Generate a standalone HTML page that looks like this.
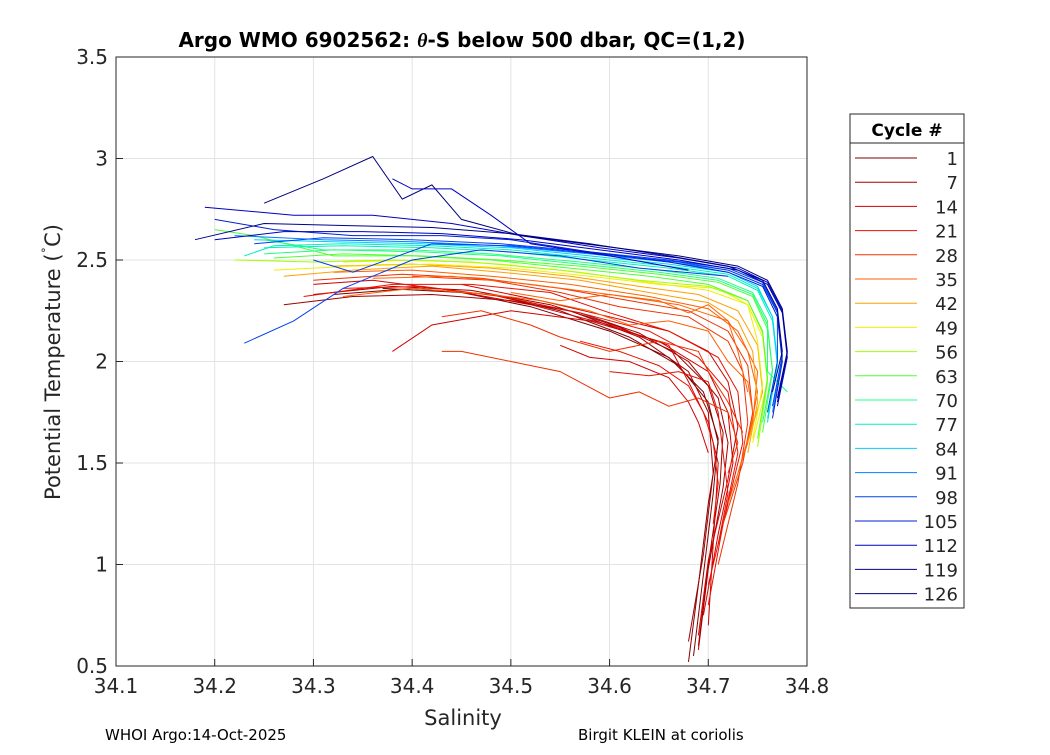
<!DOCTYPE html>
<html><head><meta charset="utf-8"><style>
body{margin:0;background:#fff;font-family:"Liberation Sans","DejaVu Sans",sans-serif}
svg text{font-family:"DejaVu Sans","Liberation Sans",sans-serif}
</style></head><body>
<svg id="chart" width="1050" height="750" xmlns="http://www.w3.org/2000/svg">
<rect width="1050" height="750" fill="#fff"/>
<text x="462" y="47" text-anchor="middle" font-size="20" font-weight="bold">Argo WMO 6902562: <tspan font-style="italic" font-family="Liberation Serif">θ</tspan>-S below 500 dbar,  QC=(1,2)</text>
<g id="grid"></g>
<g id="plot"></g>
<rect x="116" y="57" width="691" height="609" fill="none" stroke="#262626" stroke-width="1"/>
<g id="ticks"></g>
<text x="463" y="725" text-anchor="middle" font-size="21" fill="#262626">Salinity</text>
<text transform="translate(60,362) rotate(-90)" text-anchor="middle" font-size="21" fill="#262626">Potential Temperature (<tspan dy="-7" font-size="13">˚</tspan><tspan dy="7">C)</tspan></text>
<g>
<rect x="850" y="114" width="114" height="494" fill="#fff" stroke="#262626"/>
<line x1="850" y1="143" x2="964" y2="143" stroke="#262626"/>
<text x="907" y="136" text-anchor="middle" font-size="17" font-weight="bold">Cycle #</text>
<g font-size="18" fill="#262626" text-anchor="end">
<line x1="855" x2="917" y1="158" y2="158" stroke="#800000"/><text x="958" y="165">1</text>
<line x1="855" x2="917" y1="182.2" y2="182.2" stroke="#a00000"/><text x="958" y="189.2">7</text>
<line x1="855" x2="917" y1="206.4" y2="206.4" stroke="#d00000"/><text x="958" y="213.4">14</text>
<line x1="855" x2="917" y1="230.6" y2="230.6" stroke="#e81000"/><text x="958" y="237.6">21</text>
<line x1="855" x2="917" y1="254.8" y2="254.8" stroke="#f03000"/><text x="958" y="261.8">28</text>
<line x1="855" x2="917" y1="279" y2="279" stroke="#ff6000"/><text x="958" y="286">35</text>
<line x1="855" x2="917" y1="303.2" y2="303.2" stroke="#ffa000"/><text x="958" y="310.2">42</text>
<line x1="855" x2="917" y1="327.4" y2="327.4" stroke="#f0f000"/><text x="958" y="334.4">49</text>
<line x1="855" x2="917" y1="351.6" y2="351.6" stroke="#a0ff00"/><text x="958" y="358.6">56</text>
<line x1="855" x2="917" y1="375.8" y2="375.8" stroke="#50ff30"/><text x="958" y="382.8">63</text>
<line x1="855" x2="917" y1="400" y2="400" stroke="#20ff80"/><text x="958" y="407">70</text>
<line x1="855" x2="917" y1="424.2" y2="424.2" stroke="#00f0c0"/><text x="958" y="431.2">77</text>
<line x1="855" x2="917" y1="448.4" y2="448.4" stroke="#00d0ff"/><text x="958" y="455.4">84</text>
<line x1="855" x2="917" y1="472.6" y2="472.6" stroke="#0080ff"/><text x="958" y="479.6">91</text>
<line x1="855" x2="917" y1="496.8" y2="496.8" stroke="#0040f0"/><text x="958" y="503.8">98</text>
<line x1="855" x2="917" y1="521" y2="521" stroke="#0020d0"/><text x="958" y="528">105</text>
<line x1="855" x2="917" y1="545.2" y2="545.2" stroke="#0000c0"/><text x="958" y="552.2">112</text>
<line x1="855" x2="917" y1="569.4" y2="569.4" stroke="#000090"/><text x="958" y="576.4">119</text>
<line x1="855" x2="917" y1="593.6" y2="593.6" stroke="#000080"/><text x="958" y="600.6">126</text>
</g>
</g>
<text x="105" y="740" font-size="15" fill="#000">WHOI Argo:14-Oct-2025</text>
<text x="578" y="740" font-size="15" fill="#000">Birgit KLEIN at coriolis</text>
</svg>
<script>
const xTicks=[34.1,34.2,34.3,34.4,34.5,34.6,34.7,34.8];
const yTicks=[0.5,1,1.5,2,2.5,3,3.5];
const legendCycles=[1,7,14,21,28,35,42,49,56,63,70,77,84,91,98,105,112,119,126];
const legendColors=["#800000","#a00000","#d00000","#e81000","#f03000","#ff6000","#ffa000","#f0f000","#a0ff00","#50ff30","#20ff80","#00f0c0","#00d0ff","#0080ff","#0040f0","#0020d0","#0000c0","#000090","#000080"];
const profileCycles=[1,3,5,7,9,12,14,17,20,23,26,30,33,36,40,44,48,52,56,60,64,68,72,76,80,85,90,95,100,105,110,115,120,126,100,115,20,25,30,35,38,15,22];
const profiles=[
[[34.68,0.52],[34.69,0.9],[34.70,1.3],[34.71,1.6],[34.70,1.8],[34.67,1.98],[34.62,2.12],[34.55,2.25],[34.48,2.33],[34.40,2.36],[34.32,2.33]],
[[34.685,0.55],[34.695,0.95],[34.705,1.35],[34.71,1.62],[34.695,1.85],[34.66,2.02],[34.60,2.15],[34.52,2.27],[34.45,2.34],[34.37,2.36]],
[[34.69,0.6],[34.70,1.0],[34.712,1.4],[34.715,1.65],[34.70,1.88],[34.665,2.05],[34.61,2.17],[34.54,2.28],[34.46,2.35],[34.38,2.37],[34.30,2.33]],
[[34.68,0.62],[34.695,1.05],[34.705,1.45],[34.70,1.75],[34.68,1.95],[34.63,2.12],[34.56,2.25],[34.48,2.33]],
[[34.69,0.58],[34.70,0.98],[34.715,1.38],[34.72,1.6],[34.71,1.82],[34.68,2.0],[34.63,2.14],[34.57,2.24],[34.50,2.3],[34.42,2.33],[34.34,2.32],[34.27,2.28]],
[[34.70,0.7],[34.705,1.1],[34.71,1.5],[34.70,1.7],[34.68,1.9],[34.66,2.08],[34.60,2.18],[34.52,2.28],[34.44,2.35],[34.36,2.4],[34.30,2.38]],
[[34.69,0.65],[34.70,1.02],[34.72,1.42],[34.73,1.68],[34.72,1.9],[34.70,2.05],[34.66,2.15],[34.60,2.22],[34.53,2.3],[34.45,2.38]],
[[34.695,0.75],[34.71,1.15],[34.725,1.5],[34.72,1.75],[34.70,1.95],[34.65,2.1],[34.58,2.2],[34.50,2.25],[34.42,2.18],[34.38,2.05]],
[[34.70,0.8],[34.715,1.2],[34.73,1.55],[34.72,1.85],[34.69,2.02],[34.64,2.15],[34.57,2.24],[34.49,2.32],[34.41,2.37],[34.33,2.36]],
[[34.70,0.9],[34.72,1.3],[34.735,1.6],[34.73,1.85],[34.71,2.02],[34.66,2.15],[34.60,2.24],[34.54,2.34],[34.46,2.38],[34.38,2.38],[34.29,2.32]],
[[34.71,1.0],[34.73,1.4],[34.74,1.7],[34.735,1.95],[34.72,2.1],[34.68,2.22],[34.61,2.27],[34.55,2.34],[34.48,2.4],[34.40,2.42]],
[[34.715,1.2],[34.735,1.5],[34.745,1.75],[34.74,1.98],[34.72,2.15],[34.68,2.25],[34.62,2.3],[34.55,2.36],[34.47,2.41],[34.39,2.43],[34.30,2.4]],
[[34.72,1.3],[34.74,1.6],[34.75,1.85],[34.74,2.05],[34.72,2.2],[34.67,2.28],[34.60,2.33],[34.52,2.38],[34.44,2.42],[34.36,2.41]],
[[34.73,1.45],[34.745,1.7],[34.75,1.95],[34.73,2.15],[34.70,2.26],[34.64,2.32],[34.56,2.38],[34.48,2.42],[34.40,2.45],[34.32,2.44]],
[[34.74,1.55],[34.75,1.8],[34.745,2.05],[34.73,2.2],[34.70,2.29],[34.64,2.34],[34.57,2.4],[34.49,2.44],[34.42,2.47],[34.34,2.45],[34.27,2.42]],
[[34.74,1.6],[34.755,1.85],[34.75,2.08],[34.73,2.25],[34.69,2.33],[34.63,2.37],[34.56,2.42],[34.48,2.46],[34.40,2.48],[34.32,2.47]],
[[34.745,1.62],[34.755,1.88],[34.75,2.1],[34.74,2.28],[34.71,2.36],[34.65,2.38],[34.58,2.42],[34.50,2.46],[34.42,2.48],[34.34,2.47],[34.26,2.45]],
[[34.745,1.6],[34.76,1.9],[34.755,2.12],[34.74,2.28],[34.70,2.35],[34.64,2.39],[34.57,2.44],[34.49,2.48],[34.41,2.5],[34.33,2.49]],
[[34.75,1.58],[34.76,1.9],[34.755,2.14],[34.74,2.3],[34.70,2.37],[34.63,2.4],[34.55,2.45],[34.46,2.49],[34.38,2.5],[34.30,2.49],[34.22,2.5]],
[[34.75,1.62],[34.76,1.92],[34.755,2.15],[34.74,2.3],[34.70,2.38],[34.64,2.42],[34.56,2.46],[34.48,2.5],[34.40,2.52],[34.32,2.52],[34.24,2.62],[34.2,2.65]],
[[34.755,1.65],[34.765,1.95],[34.76,2.16],[34.745,2.32],[34.71,2.39],[34.65,2.43],[34.57,2.47],[34.49,2.5],[34.41,2.52],[34.33,2.53],[34.26,2.51]],
[[34.755,1.7],[34.765,1.96],[34.76,2.18],[34.745,2.33],[34.71,2.4],[34.65,2.44],[34.57,2.48],[34.49,2.52],[34.41,2.54],[34.32,2.55],[34.25,2.53]],
[[34.78,1.85],[34.76,1.95],[34.76,2.2],[34.745,2.34],[34.71,2.41],[34.65,2.45],[34.57,2.49],[34.48,2.53],[34.40,2.55],[34.31,2.55],[34.25,2.6]],
[[34.76,1.72],[34.77,1.98],[34.765,2.2],[34.75,2.35],[34.72,2.42],[34.66,2.46],[34.58,2.5],[34.50,2.54],[34.42,2.56],[34.33,2.57],[34.25,2.56]],
[[34.76,1.75],[34.77,2.0],[34.765,2.22],[34.75,2.36],[34.72,2.43],[34.66,2.47],[34.58,2.51],[34.50,2.55],[34.42,2.57],[34.33,2.58],[34.26,2.57],[34.23,2.52]],
[[34.76,1.7],[34.77,2.0],[34.765,2.22],[34.75,2.37],[34.72,2.44],[34.66,2.48],[34.58,2.52],[34.50,2.56],[34.41,2.58],[34.32,2.59],[34.24,2.6]],
[[34.765,1.75],[34.775,2.02],[34.77,2.24],[34.755,2.38],[34.72,2.45],[34.66,2.49],[34.58,2.53],[34.49,2.57],[34.40,2.59],[34.31,2.6],[34.22,2.62]],
[[34.765,1.78],[34.775,2.03],[34.77,2.25],[34.755,2.39],[34.72,2.46],[34.66,2.5],[34.58,2.54],[34.49,2.58],[34.40,2.6],[34.31,2.61],[34.24,2.58]],
[[34.76,1.75],[34.77,2.0],[34.77,2.24],[34.755,2.38],[34.72,2.45],[34.67,2.49],[34.59,2.53],[34.50,2.57],[34.42,2.58],[34.34,2.44],[34.3,2.5]],
[[34.765,1.72],[34.775,2.0],[34.77,2.22],[34.755,2.37],[34.72,2.44],[34.66,2.49],[34.58,2.54],[34.50,2.6],[34.43,2.62],[34.34,2.62],[34.26,2.65],[34.2,2.7]],
[[34.77,1.78],[34.78,2.02],[34.775,2.24],[34.76,2.38],[34.73,2.45],[34.67,2.5],[34.59,2.55],[34.51,2.6],[34.43,2.63],[34.35,2.64],[34.27,2.64],[34.2,2.6]],
[[34.77,1.8],[34.78,2.04],[34.775,2.25],[34.76,2.39],[34.73,2.46],[34.67,2.51],[34.59,2.56],[34.51,2.62],[34.44,2.68],[34.36,2.72],[34.28,2.72],[34.19,2.76]],
[[34.765,1.85],[34.775,2.05],[34.77,2.26],[34.755,2.4],[34.72,2.47],[34.66,2.52],[34.58,2.58],[34.5,2.63],[34.42,2.66],[34.33,2.67],[34.25,2.68],[34.18,2.6]],
[[34.77,1.82],[34.78,2.05],[34.775,2.26],[34.76,2.4],[34.73,2.47],[34.67,2.52],[34.59,2.57],[34.51,2.62],[34.45,2.7],[34.42,2.87],[34.39,2.8],[34.36,3.01],[34.31,2.9],[34.25,2.78]],
[[34.72,2.42],[34.63,2.46],[34.55,2.52],[34.47,2.55],[34.40,2.5],[34.33,2.36],[34.28,2.2],[34.23,2.09]],
[[34.68,2.45],[34.60,2.52],[34.52,2.58],[34.48,2.72],[34.44,2.85],[34.40,2.85],[34.38,2.9]],
[[34.71,1.1],[34.72,1.35],[34.715,1.55],[34.71,1.75],[34.70,1.9],[34.67,1.95],[34.64,1.93],[34.60,1.95]],
[[34.72,1.45],[34.73,1.6],[34.72,1.75],[34.69,1.82],[34.66,1.78],[34.63,1.85],[34.60,1.82],[34.55,1.95],[34.50,2.0],[34.45,2.05],[34.43,2.05]],
[[34.735,1.65],[34.72,1.8],[34.70,1.95],[34.69,2.05],[34.65,2.1],[34.60,2.05],[34.55,2.12],[34.52,2.18],[34.47,2.25],[34.43,2.22]],
[[34.745,1.75],[34.74,1.9],[34.72,2.0],[34.70,2.15],[34.66,2.2],[34.62,2.18],[34.58,2.25],[34.53,2.3],[34.48,2.33],[34.40,2.36],[34.33,2.32]],
[[34.74,1.85],[34.73,2.05],[34.72,2.2],[34.70,2.28],[34.68,2.24],[34.65,2.3],[34.60,2.33],[34.55,2.3],[34.50,2.34]],
[[34.70,1.55],[34.69,1.7],[34.68,1.8],[34.66,1.92],[34.62,2.0],[34.58,2.02],[34.55,2.08]],
[[34.705,1.2],[34.71,1.4],[34.705,1.6],[34.695,1.75],[34.68,1.88],[34.65,1.98],[34.61,2.05],[34.57,2.1]]
];
const X0=116,X1=807,Y0=666,Y1=57;
const xs=v=>X0+(v-34.1)/(34.8-34.1)*(X1-X0);
const ys=v=>Y0-(v-0.5)/(3.5-0.5)*(Y0-Y1);
const NS='http://www.w3.org/2000/svg';
function colorFor(c){let bi=0,bd=1e9;legendCycles.forEach((lc,i)=>{const d=Math.abs(lc-c);if(d<bd){bd=d;bi=i;}});return legendColors[bi];}
const grid=document.getElementById('grid'),ticks=document.getElementById('ticks'),plot=document.getElementById('plot');
xTicks.forEach(v=>{const x=xs(v);
const l=document.createElementNS(NS,'line');l.setAttribute('x1',x);l.setAttribute('x2',x);l.setAttribute('y1',Y1);l.setAttribute('y2',Y0);l.setAttribute('stroke','#e3e3e3');


grid.appendChild(l);
const tk=document.createElementNS(NS,'line');tk.setAttribute('x1',x);tk.setAttribute('x2',x);tk.setAttribute('y1',Y0);tk.setAttribute('y2',Y0-7);tk.setAttribute('stroke','#262626');


ticks.appendChild(tk);
const t=document.createElementNS(NS,'text');t.setAttribute('x',x);t.setAttribute('y',Y0+27);t.setAttribute('text-anchor','middle');t.setAttribute('font-size','20');t.setAttribute('fill','#262626');t.textContent=v.toFixed(1);


ticks.appendChild(t);});
yTicks.forEach(v=>{const y=ys(v);
const l=document.createElementNS(NS,'line');l.setAttribute('x1',X0);l.setAttribute('x2',X1);l.setAttribute('y1',y);l.setAttribute('y2',y);l.setAttribute('stroke','#e3e3e3');


grid.appendChild(l);
const tk=document.createElementNS(NS,'line');tk.setAttribute('x1',X0);tk.setAttribute('x2',X0+7);tk.setAttribute('y1',y);tk.setAttribute('y2',y);tk.setAttribute('stroke','#262626');


ticks.appendChild(tk);
const t=document.createElementNS(NS,'text');t.setAttribute('x',X0-8);t.setAttribute('y',y+7);t.setAttribute('text-anchor','end');t.setAttribute('font-size','20');t.setAttribute('fill','#262626');t.textContent=String(v);


ticks.appendChild(t);});
profiles.forEach((p,i)=>{const pl=document.createElementNS(NS,'polyline');
pl.setAttribute('points',p.map(d=>xs(d[0]).toFixed(1)+','+ys(d[1]).toFixed(1)).join(' '));
pl.setAttribute('fill','none');pl.setAttribute('stroke',colorFor(profileCycles[i]));pl.setAttribute('stroke-width','1');


plot.appendChild(pl);});
</script>
</body></html>
